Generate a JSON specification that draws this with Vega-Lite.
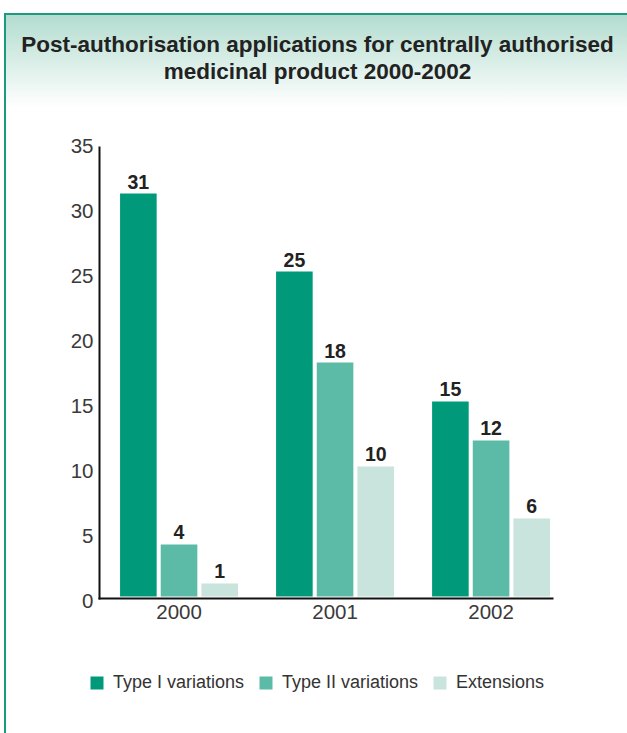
{
  "$schema": "https://vega.github.io/schema/vega-lite/v6.json",
  "autosize": {"type": "none"},
  "width": 625,
  "height": 749,
  "padding": {"left": 5, "top": 14, "right": -3, "bottom": -30},
  "background": "#ffffff",
  "config": {
    "view": {"stroke": null},
    "font": "Liberation Sans"
  },
  "title": {
    "text": ["Post-authorisation applications for centrally authorised", "medicinal product 2000-2002"],
    "fontSize": 22.5,
    "fontWeight": "bold",
    "font": "Liberation Sans",
    "color": "#222222",
    "anchor": "middle",
    "frame": "group",
    "lineHeight": 27,
    "offset": -70,
    "zindex": 1
  },
  "data": {
    "values": [
      {"year": "2000", "type": "Type I variations", "value": 31},
      {"year": "2000", "type": "Type II variations", "value": 4},
      {"year": "2000", "type": "Extensions", "value": 1},
      {"year": "2001", "type": "Type I variations", "value": 25},
      {"year": "2001", "type": "Type II variations", "value": 18},
      {"year": "2001", "type": "Extensions", "value": 10},
      {"year": "2002", "type": "Type I variations", "value": 15},
      {"year": "2002", "type": "Type II variations", "value": 12},
      {"year": "2002", "type": "Extensions", "value": 6}
    ]
  },
  "layer": [
    {
      "data": {"values": [{"panel": "frame"}]},
      "mark": {
        "type": "rect",
        "fill": {
          "gradient": "linear",
          "x1": 0, "y1": 0, "x2": 0, "y2": 1,
          "stops": [
            {"offset": 0, "color": "#b2dccf"},
            {"offset": 0.125, "color": "#ffffff"}
          ]
        },
        "stroke": "#1b9a7d",
        "strokeWidth": 2
      },
      "encoding": {}
    },
    {
      "mark": {"type": "bar"},
      "encoding": {
        "x": {
          "field": "year", "type": "nominal",
          "scale": {"paddingInner": 0.244, "paddingOuter": 0.625, "align": 0.59},
          "axis": {
            "orient": "bottom",
            "offset": -165,
            "title": null,
            "labelAngle": 0,
            "ticks": false,
            "domain": true,
            "domainColor": "#111111",
            "domainWidth": 2,
            "domainDash": [0, 93, 455, 2000],
            "labelFontSize": 20.5,
            "labelColor": "#3a3a3a",
            "labelPadding": 4,
            "zindex": 1
          }
        },
        "xOffset": {
          "field": "type", "type": "nominal",
          "sort": ["Type I variations", "Type II variations", "Extensions"],
          "scale": {"paddingInner": 0.1, "paddingOuter": 0}
        },
        "y": {
          "field": "value", "type": "quantitative",
          "scale": {"domain": [-12.808, 44.808], "nice": false, "zero": false},
          "axis": {
            "orient": "left",
            "offset": -94,
            "title": null,
            "values": [0, 5, 10, 15, 20, 25, 30, 35],
            "grid": false,
            "ticks": false,
            "domain": true,
            "domainColor": "#111111",
            "domainWidth": 2,
            "domainDash": [0, 164, 453, 2000],
            "labelFontSize": 20.5,
            "labelColor": "#3a3a3a",
            "labelPadding": 6,
            "labelOffset": 5,
            "zindex": 1
          }
        },
        "y2": {"datum": 0},
        "color": {
          "field": "type", "type": "nominal",
          "sort": ["Type I variations", "Type II variations", "Extensions"],
          "scale": {
            "domain": ["Type I variations", "Type II variations", "Extensions"],
            "range": ["#009a7b", "#5bbba7", "#c8e4dc"]
          },
          "legend": {
            "orient": "none",
            "legendX": 83,
            "legendY": 660,
            "direction": "horizontal",
            "title": null,
            "symbolType": "square",
            "symbolSize": 169,
            "symbolStrokeWidth": 0,
            "labelFontSize": 18,
            "labelColor": "#333333",
            "labelOffset": 7,
            "columnPadding": 12,
            "padding": 0,
            "zindex": 1
          }
        }
      }
    },
    {
      "mark": {"type": "text", "fontWeight": "bold", "fontSize": 19.5, "color": "#222222", "baseline": "alphabetic", "dy": -5},
      "encoding": {
        "x": {"field": "year", "type": "nominal"},
        "xOffset": {"field": "type", "type": "nominal", "sort": ["Type I variations", "Type II variations", "Extensions"]},
        "y": {"field": "value", "type": "quantitative"},
        "text": {"field": "value", "type": "quantitative"}
      }
    }
  ]
}
